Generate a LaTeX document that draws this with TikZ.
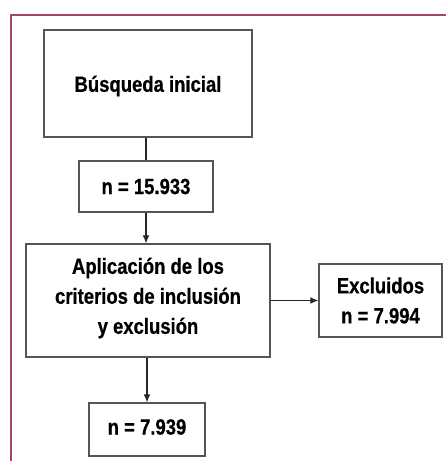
\documentclass[tikz,border=0pt]{standalone}
\usepackage{fontspec}
\setmainfont{Liberation Sans}
\newfontfamily\narrowfont[FakeStretch=0.84,FakeBold=0.6]{Liberation Sans}
\usetikzlibrary{arrows.meta}
\definecolor{framecol}{HTML}{A8436A}
\definecolor{boxcol}{HTML}{555555}
\tikzset{
  boxfont/.style={font=\narrowfont\fontsize{16.5}{22.5}\selectfont\bfseries},
  flowbox/.style={draw=boxcol, line width=0.9pt, fill=white, align=center, inner sep=0pt, boxfont},
  boxtext/.style={boxfont, align=center, inner sep=0pt},
  conn/.style={draw=black!85, line width=0.8pt},
  arr/.style={conn, -{Latex[length=6pt,width=5pt]}}
}
\begin{document}
\begin{tikzpicture}[x=0.75pt,y=-0.75pt]
\useasboundingbox (0,0) rectangle (446,461);
% outer frame (cropped)
\draw[framecol, line width=2.2pt] (11,463) -- (11,15) -- (448,15);
% boxes
\node[flowbox, minimum width=208*0.75pt, minimum height=107*0.75pt] (b1) at (148,83.5) {};
\node[boxtext] (t1) at (148,86) {Búsqueda inicial};
\node[flowbox, minimum width=134*0.75pt, minimum height=51*0.75pt] (b2) at (146,186.5) {n = 15.933};
\node[flowbox, minimum width=244*0.75pt, minimum height=113*0.75pt] (b3) at (148,300.5) {};
\node[boxtext] (t3) at (148,298) {Aplicación de los\\criterios de inclusión\\y exclusión};
\node[flowbox, minimum width=123*0.75pt, minimum height=73*0.75pt] (b5) at (380.5,300.5) {Excluidos\\n = 7.994};
\node[flowbox, minimum width=116*0.75pt, minimum height=53*0.75pt] (b4) at (147,429.5) {};
\node[boxtext] (t4) at (147,427) {n = 7.939};
% connectors
\draw[conn] (b1.south -| b2.north) -- (b2.north);
\draw[arr] (b2.south) -- (b2.south |- b3.north);
\draw[arr] (b3.south -| b4.north) -- (b4.north);
\draw[arr] (b3.east) -- (b5.west);
\end{tikzpicture}
\end{document}
